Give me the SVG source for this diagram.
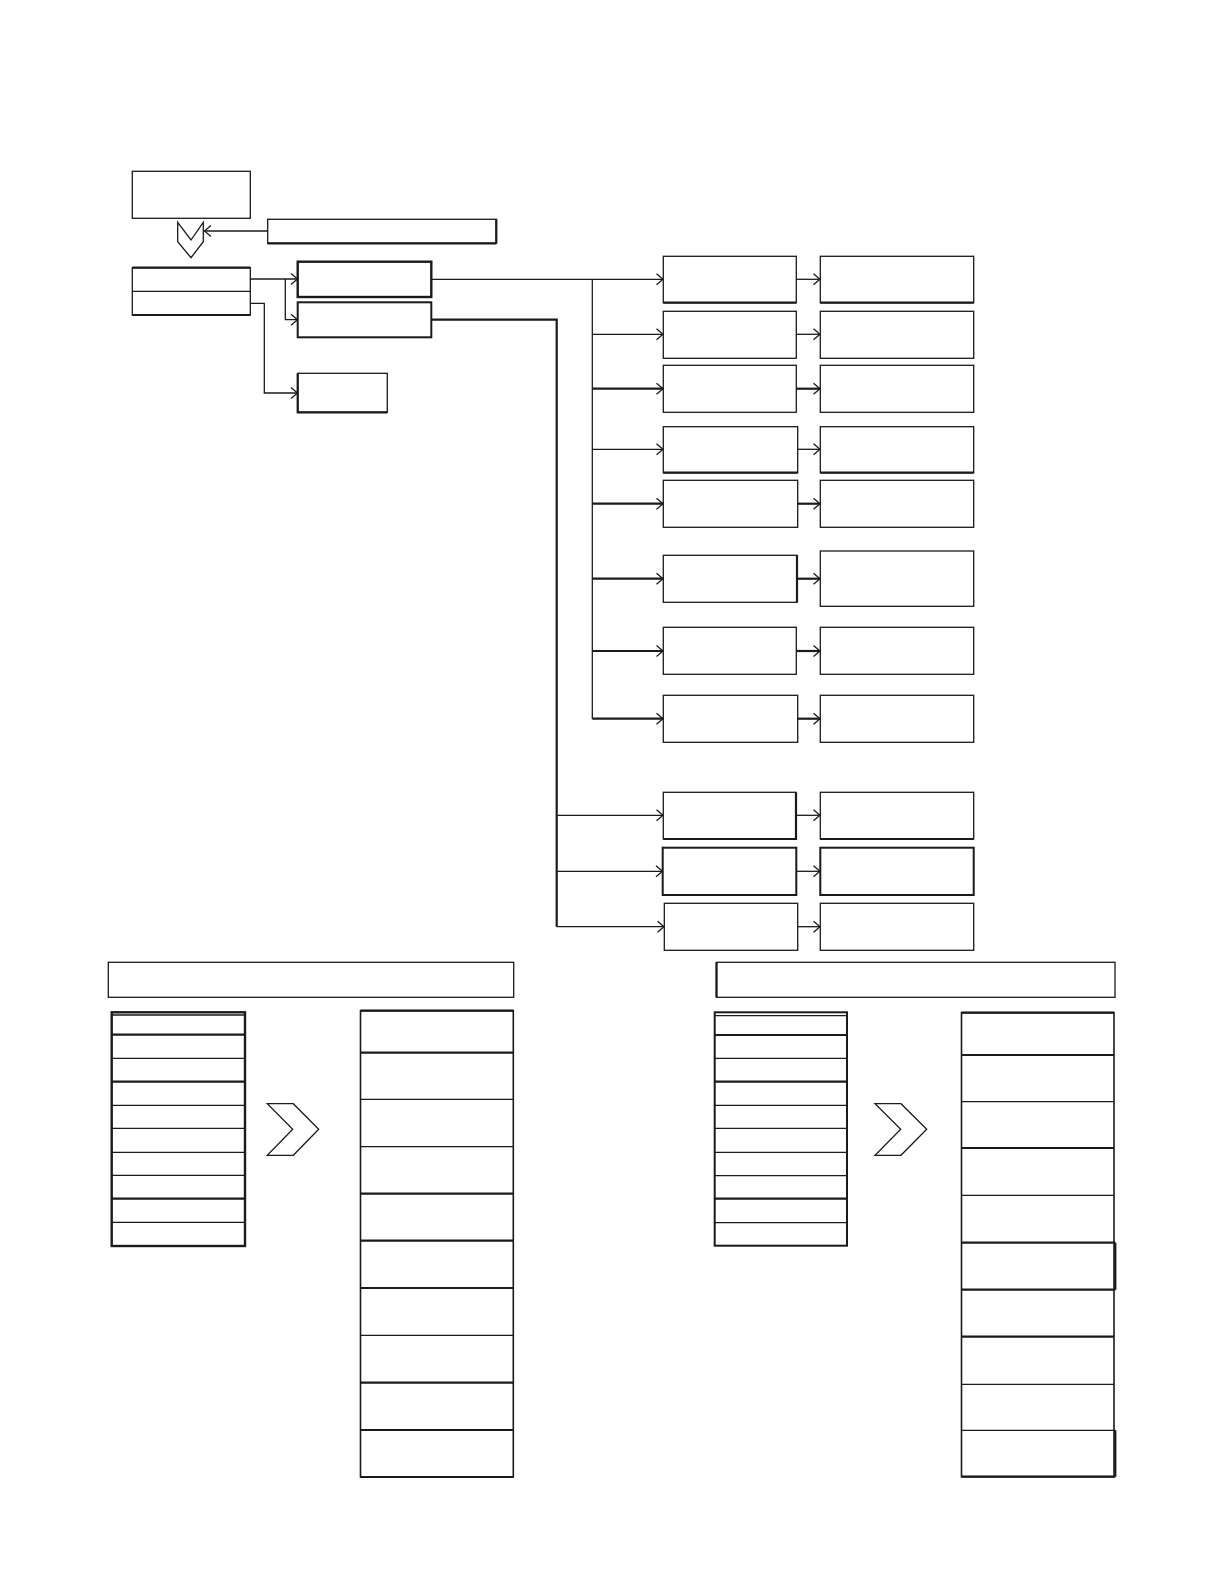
<svg xmlns="http://www.w3.org/2000/svg" width="1224" height="1584" viewBox="0 0 1224 1584">
<style>
.b{fill:#fff;stroke:#1a1a1a;stroke-width:1.3}
.bt{fill:#fff;stroke:#1a1a1a;stroke-width:2}
.ln{fill:none;stroke:#1a1a1a;stroke-width:1.3}
.lt{fill:none;stroke:#1a1a1a;stroke-width:2.2}
.sep{fill:none;stroke:#1a1a1a;stroke-width:1.3}
.sept{fill:none;stroke:#1a1a1a;stroke-width:2.2}
.a{marker-end:url(#arr)}
</style>
<defs>
<marker id="arr" markerUnits="userSpaceOnUse" markerWidth="14" markerHeight="14" viewBox="-8 -7 9 14" refX="0" refY="0" orient="auto">
<path d="M-6.5,-5.5 L0,0 L-6.5,5.5" fill="none" stroke="#1a1a1a" stroke-width="1.3"/>
</marker>
</defs>
<rect width="1224" height="1584" fill="#fff"/>

<g id="connectors">
<path class="ln a" d="M267.7,231 H204.5"/>
<path class="ln a" d="M250.3,279 H297.5"/>
<path class="ln a" d="M285.3,279 V319.7 H297.5"/>
<path class="ln a" d="M250.3,303.3 H264.3 V393 H297.5"/>
<path class="ln a" d="M431.3,279.3 H663"/>
<path class="ln" d="M592.3,279.3 V718.7"/>
<path class="ln a" d="M592.3,334.3 H663"/>
<path class="lt a" d="M592.3,388.7 H663"/>
<path class="ln a" d="M592.3,449.3 H663"/>
<path class="lt a" d="M592.3,503.7 H663"/>
<path class="lt a" d="M592.3,578.7 H663"/>
<path class="lt a" d="M592.3,651 H663"/>
<path class="lt a" d="M592.3,718.7 H663"/>
<path class="lt" d="M431.3,319.7 H556.7 V926.7"/>
<path class="ln a" d="M556.7,815.3 H663"/>
<path class="ln a" d="M556.7,871.3 H662.5"/>
<path class="ln a" d="M556.7,926.7 H664"/>
<path class="ln a" d="M796.3,279.3 H820"/>
<path class="ln a" d="M796.3,334.3 H820"/>
<path class="lt a" d="M796.3,388.7 H820"/>
<path class="ln a" d="M797.7,449.3 H820"/>
<path class="lt a" d="M797.7,503.7 H820"/>
<path class="lt a" d="M797,578.7 H820"/>
<path class="lt a" d="M796.3,651 H820"/>
<path class="lt a" d="M797.7,718.7 H820"/>
<path class="ln a" d="M796,815.3 H820"/>
<path class="ln a" d="M796.3,871.3 H820"/>
<path class="ln a" d="M797.7,926.7 H820"/>
</g>

<g id="top-box"><rect class="b" x="132.3" y="171.3" width="118" height="47"/></g>
<g id="down-chevron"><polygon class="b" points="177.7,222.3 191,240 203.3,222.3 203.3,241.7 191,257.7 177.7,241.7"/></g>
<g id="note-box"><rect class="b" x="267.7" y="219.3" width="228.6" height="24"/><path class="sept" d="M496.3,219.3 V243.3 M267.7,243.3 H496.3"/></g>
<g id="split-box"><rect class="b" x="132.3" y="267.7" width="118" height="47.3"/><path class="sept" d="M132.3,267.7 H250.3 M132.3,315 H250.3"/><line class="sep" x1="132.3" y1="291.3" x2="250.3" y2="291.3"/></g>
<g id="box-d"><rect class="bt" x="297.7" y="261.7" width="133.6" height="35.3" style="stroke-width:2.4"/></g>
<g id="box-e"><rect class="bt" x="297.7" y="302.3" width="133.6" height="35"/></g>
<g id="box-f"><rect class="b" x="297.7" y="373.3" width="89.6" height="39"/><path class="sept" d="M297.7,373.3 V412.3 H387.3"/></g>

<g id="r1l"><rect class="b" x="663.3" y="256.3" width="133" height="46.4"/><path class="sept" d="M663.3,302.7 H796.3"/></g>
<g id="r1r"><rect class="b" x="820.3" y="256.3" width="153.4" height="46.4"/><path class="sept" d="M820.3,302.7 H973.7"/></g>
<g id="r2l"><rect class="b" x="663.3" y="311.3" width="133" height="47"/></g>
<g id="r2r"><rect class="b" x="820.3" y="311.3" width="153.4" height="47"/></g>
<g id="r3l"><rect class="b" x="663.3" y="365.3" width="133" height="47"/></g>
<g id="r3r"><rect class="b" x="820.3" y="365.3" width="153.4" height="47"/></g>
<g id="r4l"><rect class="b" x="663.3" y="426.7" width="134.4" height="46"/><path class="sept" d="M663.3,472.7 H797.7"/></g>
<g id="r4r"><rect class="b" x="820.3" y="426.7" width="153.4" height="46"/><path class="sept" d="M820.3,472.7 H973.7"/></g>
<g id="r5l"><rect class="b" x="663.3" y="480.3" width="134.4" height="47"/></g>
<g id="r5r"><rect class="b" x="820.3" y="480.3" width="153.4" height="47"/></g>
<g id="r6l"><rect class="b" x="663.3" y="555.3" width="133.7" height="47"/><path class="sept" d="M797,555.3 V602.3"/></g>
<g id="r6r"><rect class="b" x="820.3" y="551" width="153.4" height="55.3"/></g>
<g id="r7l"><rect class="b" x="663.3" y="627.3" width="133" height="47"/></g>
<g id="r7r"><rect class="b" x="820.3" y="627.3" width="153.4" height="47"/></g>
<g id="r8l"><rect class="b" x="663.3" y="695.3" width="134.4" height="47"/></g>
<g id="r8r"><rect class="b" x="820.3" y="695.3" width="153.4" height="47"/></g>
<g id="r9l"><rect class="b" x="663.3" y="792.3" width="132.7" height="46.7"/><path class="sept" d="M796,792.3 V839 H663.3"/></g>
<g id="r9r"><rect class="b" x="820.3" y="792.3" width="153.4" height="46.7"/><path class="sept" d="M820.3,839 H973.7"/></g>
<g id="r10l"><rect class="bt" x="662.7" y="847.7" width="133.6" height="47.3"/></g>
<g id="r10r"><rect class="bt" x="820.3" y="847.7" width="153.4" height="47.3"/></g>
<g id="r11l"><rect class="b" x="664.3" y="903.3" width="133.4" height="47"/></g>
<g id="r11r"><rect class="b" x="820.3" y="903.3" width="153.4" height="47"/></g>

<g id="header-left"><rect class="b" x="108.3" y="962.3" width="405.4" height="35"/></g>
<g id="header-right"><rect class="b" x="716.5" y="962.3" width="398.5" height="35"/><path class="sept" d="M716.5,962.3 V997.3"/></g>

<g id="list-left">
<rect class="bt" x="111.7" y="1012.3" width="133.3" height="233.7" style="stroke-width:2.4"/>
<path class="sep" d="M111.7,1015 H245 M111.7,1058.3 H245 M111.7,1105.3 H245 M111.7,1128.3 H245 M111.7,1152.3 H245 M111.7,1175.3 H245 M111.7,1222.3 H245"/>
<path class="sept" d="M111.7,1034.7 H245 M111.7,1081.7 H245 M111.7,1198.7 H245"/>
</g>
<g id="chevron-left"><polygon class="b" points="267.3,1103.7 293.3,1103.7 318.7,1129.3 293.3,1155.3 267.3,1155.3 292.7,1129.3"/></g>
<g id="stack-left">
<rect class="b" x="360.5" y="1010.7" width="152.8" height="466.3" style="stroke-width:1.6"/>
<path class="sept" d="M360.5,1010.7 H513.3 M360.5,1052.7 H513.3 M360.5,1193.7 H513.3 M360.5,1240.7 H513.3 M360.5,1288 H513.3 M360.5,1382.7 H513.3 M360.5,1430 H513.3 M360.5,1477 H513.3"/>
<path class="sep" d="M360.5,1099.3 H513.3 M360.5,1146.7 H513.3 M360.5,1335.3 H513.3"/>
</g>

<g id="list-right">
<rect class="bt" x="714.7" y="1012.3" width="132.3" height="233.4"/>
<path class="sep" d="M714.7,1015.7 H847 M714.7,1058.3 H847 M714.7,1105.3 H847 M714.7,1128.3 H847 M714.7,1152.3 H847 M714.7,1175.7 H847 M714.7,1222.7 H847"/>
<path class="sept" d="M714.7,1035 H847 M714.7,1081.7 H847 M714.7,1198.7 H847"/>
</g>
<g id="chevron-right"><polygon class="b" points="875,1103.7 901,1103.7 926.7,1129.3 901,1155.3 875,1155.3 900.7,1129.3"/></g>
<g id="stack-right">
<rect class="b" x="961.5" y="1012.7" width="152.5" height="464" style="stroke-width:1.6"/>
<path class="sept" d="M961.5,1012.7 H1114 M961.5,1055 H1114 M961.5,1148 H1114 M961.5,1242.7 H1115.3 M961.5,1289.7 H1115.3 M961.5,1336.7 H1114 M961.5,1476.7 H1115.3 M1115.3,1242.7 V1289.7 M1115.3,1430.3 V1476.7"/>
<path class="sep" d="M961.5,1101.7 H1114 M961.5,1195.3 H1114 M961.5,1384.3 H1114 M961.5,1430.3 H1115.3"/>
</g>
</svg>
